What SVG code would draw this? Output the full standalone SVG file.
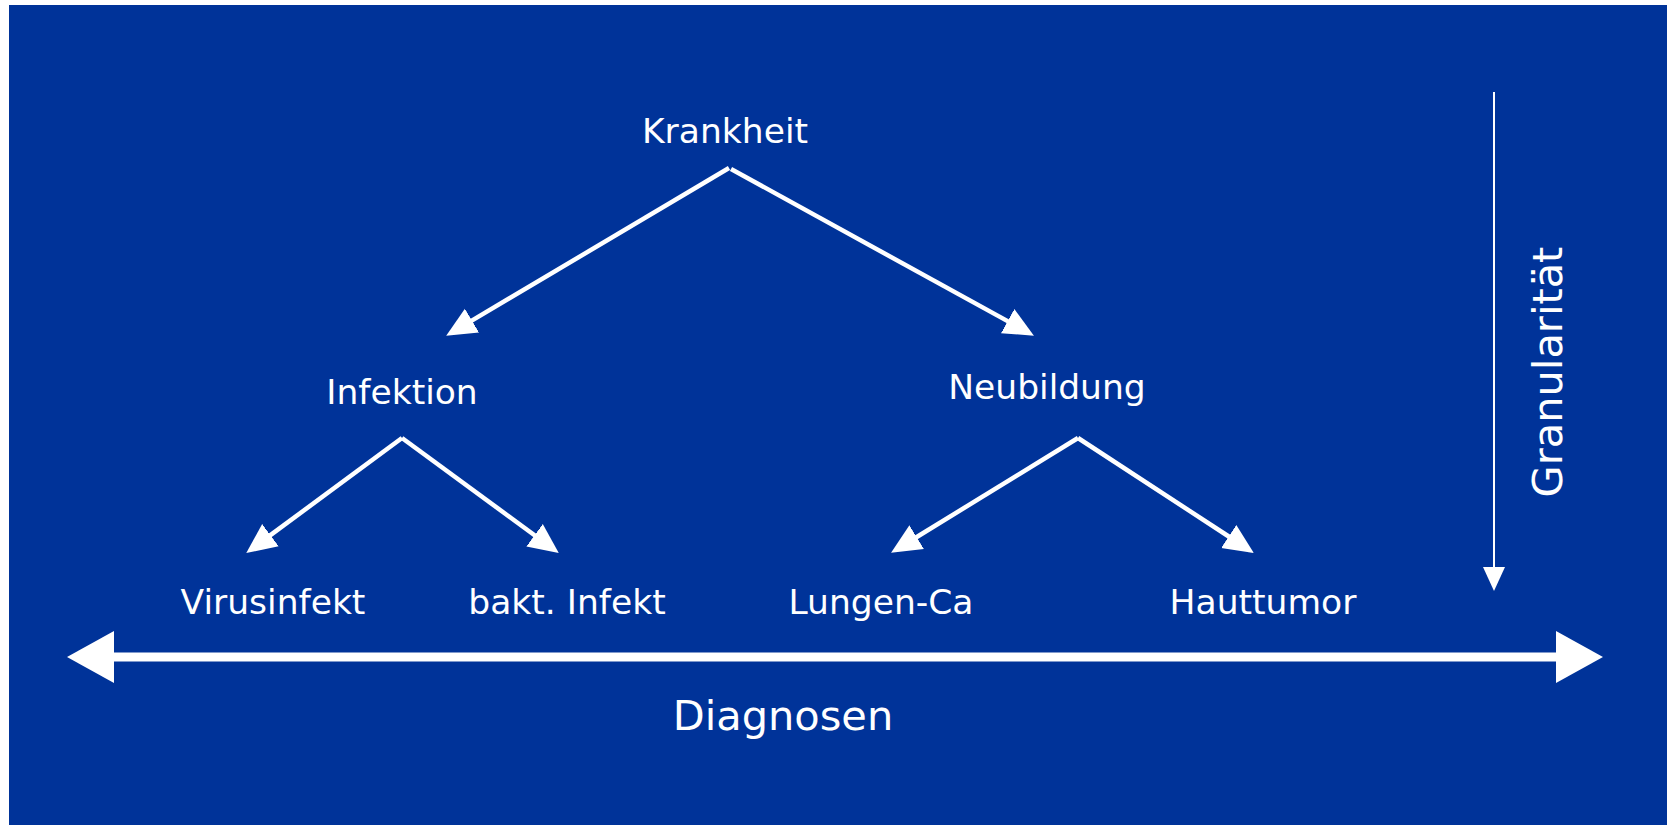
<svg xmlns="http://www.w3.org/2000/svg" width="1667" height="825" viewBox="0 0 1667 825">
<defs>
<style>
.lbl{font-family:"DejaVu Sans","Liberation Sans",sans-serif;font-size:34.5px;fill:#ffffff;text-anchor:middle}
.big{font-family:"DejaVu Sans","Liberation Sans",sans-serif;font-size:41.5px;fill:#ffffff;text-anchor:middle}
.edge{stroke:#ffffff;stroke-width:4.5;fill:none;marker-end:url(#ah)}
</style>
<marker id="ah" markerUnits="userSpaceOnUse" markerWidth="30" markerHeight="30" viewBox="0 0 26 24" refX="4" refY="12" orient="auto">
<path d="M0,0 L26,12 L0,24 Z" fill="#ffffff"/>
</marker>
</defs>
<rect x="0" y="0" width="1667" height="825" fill="#ffffff"/>
<rect x="9" y="5" width="1658" height="820" fill="#003399"/>
<g id="connectors">
<line class="edge" x1="729" y1="168" x2="468" y2="322.9"/>
<line class="edge" x1="731" y1="169" x2="1011.7" y2="323.4"/>
<line class="edge" x1="402" y1="438" x2="266.7" y2="537.9"/>
<line class="edge" x1="402" y1="438" x2="538.3" y2="538"/>
<line class="edge" x1="1078" y1="438" x2="912.7" y2="539.5"/>
<line class="edge" x1="1078" y1="438" x2="1232.6" y2="539"/>
</g>
<g id="node-krankheit"><text class="lbl" x="725" y="143">Krankheit</text></g>
<g id="node-infektion"><text class="lbl" x="402" y="404">Infektion</text></g>
<g id="node-neubildung"><text class="lbl" x="1047" y="399">Neubildung</text></g>
<g id="node-virusinfekt"><text class="lbl" x="273" y="614">Virusinfekt</text></g>
<g id="node-bakt"><text class="lbl" x="567" y="614">bakt. Infekt</text></g>
<g id="node-lungen"><text class="lbl" x="881" y="614">Lungen-Ca</text></g>
<g id="node-haut"><text class="lbl" x="1263" y="614">Hauttumor</text></g>
<g id="axis-diagnosen">
<line x1="110" y1="657" x2="1560" y2="657" stroke="#ffffff" stroke-width="9"/>
<polygon points="67,657 114,631 114,683" fill="#ffffff"/>
<polygon points="1603,657 1556,631 1556,683" fill="#ffffff"/>
<text class="big" x="783" y="730">Diagnosen</text>
</g>
<g id="axis-granularitaet">
<line x1="1494" y1="92" x2="1494" y2="570" stroke="#ffffff" stroke-width="2"/>
<polygon points="1483,567 1505,567 1494,591" fill="#ffffff"/>
<text class="big" transform="translate(1562,372) rotate(-90)">Granularität</text>
</g>
</svg>
